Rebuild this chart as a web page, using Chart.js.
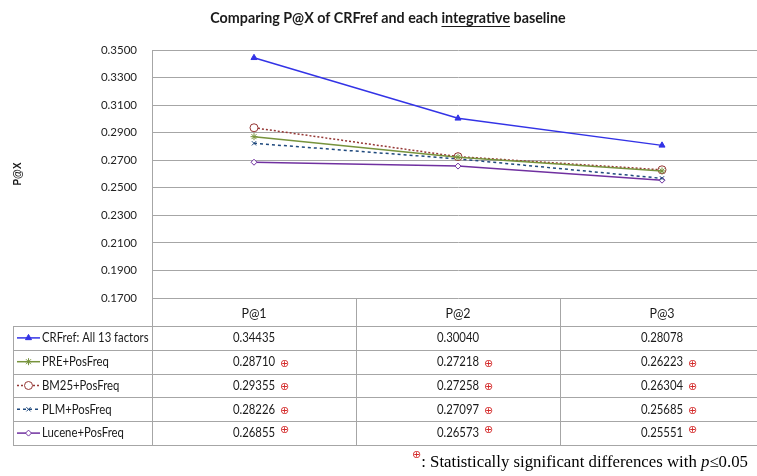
<!DOCTYPE html>
<html>
<head>
<meta charset="utf-8">
<script src="https://cdn.jsdelivr.net/npm/chart.js@4.4.1/dist/chart.umd.min.js"></script>
<style>
  html, body { margin: 0; padding: 0; background: #fff; overflow: hidden; }
  #wrap { width: 757px; height: 476px; overflow: hidden; }
  canvas { display: block; }
</style>
</head>
<body>
<div id="wrap"><canvas id="grafico" width="769" height="476"></canvas></div>
<script>
// dados
const categorias = ['P@1', 'P@2', 'P@3'];
const nomesSeries = ['CRFref: All 13 factors', 'PRE+PosFreq', 'BM25+PosFreq', 'PLM+PosFreq', 'Lucene+PosFreq'];
const crfRef = [0.34435, 0.30040, 0.28078];
const prePosFreq = [0.28710, 0.27218, 0.26223];
const bm25PosFreq = [0.29355, 0.27258, 0.26304];
const plmPosFreq = [0.28226, 0.27097, 0.25685];
const lucenePosFreq = [0.26855, 0.26573, 0.25551];
const significativo = [
    [false, false, false],
    [true, true, true],
    [true, true, true],
    [true, true, true],
    [true, true, true]
];
const yTicks = [0.17, 0.19, 0.21, 0.23, 0.25, 0.27, 0.29, 0.31, 0.33, 0.35];

const familia = 'Lato, "Liberation Sans", sans-serif';
const fonteTabela = '13.5px ' + familia;
const escalaTabela = 0.84; // texto um pouco condensado, como Calibri
const corGrade = '#a6a6a6';

function textoCondensado(ctx, txt, x, y) {
    ctx.save();
    ctx.translate(x, y);
    ctx.scale(escalaTabela, 1);
    ctx.fillText(txt, 0, 0);
    ctx.restore();
    return ctx.measureText(txt).width * escalaTabela;
}

const tabelaPlugin = {
    id: 'tabela',
    afterDraw(chart) {
        const { ctx, chartArea, scales: { x } } = chart;
        const direita = chart.width;
        const esquerda = 13;
        const topo = chartArea.bottom;
        const fimCabecalho = x.bottom;
        const alturaLinha = 23.8;
        const nLinhas = nomesSeries.length;
        const fundo = fimCabecalho + nLinhas * alturaLinha;

        const centros = categorias.map((c, i) => x.getPixelForValue(i));
        const limites = [];
        for (let i = 1; i < centros.length; i++) limites.push((centros[i - 1] + centros[i]) / 2);

        ctx.save();
        ctx.strokeStyle = corGrade;
        ctx.lineWidth = 1;
        ctx.beginPath();
        for (let i = 0; i <= nLinhas; i++) {
            const y = Math.round(fimCabecalho + i * alturaLinha) + 0.5;
            ctx.moveTo(esquerda, y);
            ctx.lineTo(direita, y);
        }
        ctx.moveTo(esquerda + 0.5, fimCabecalho);
        ctx.lineTo(esquerda + 0.5, fundo + 0.5);
        ctx.moveTo(Math.round(chartArea.left) + 0.5, topo);
        ctx.lineTo(Math.round(chartArea.left) + 0.5, fundo + 0.5);
        limites.forEach(l => {
            ctx.moveTo(Math.round(l) + 0.5, topo);
            ctx.lineTo(Math.round(l) + 0.5, fundo + 0.5);
        });
        ctx.stroke();

        chart.data.datasets.forEach((ds, i) => {
            const yc = fimCabecalho + (i + 0.5) * alturaLinha;
            // amostra da legenda
            ctx.save();
            ctx.strokeStyle = ds.borderColor;
            ctx.lineWidth = ds.borderWidth;
            ctx.setLineDash(ds.borderDash || []);
            ctx.beginPath();
            ctx.moveTo(17, yc);
            ctx.lineTo(40, yc);
            ctx.stroke();
            ctx.setLineDash([]);
            ctx.fillStyle = ds.pointBackgroundColor;
            ctx.strokeStyle = ds.borderColor;
            ctx.lineWidth = 1;
            Chart.helpers.drawPoint(ctx, {
                pointStyle: ds.pointStyle,
                radius: ds.pointRadius,
                rotation: 0,
                borderWidth: 1
            }, 28.5, yc);
            ctx.restore();

            ctx.fillStyle = '#1a1a1a';
            ctx.font = fonteTabela;
            ctx.textBaseline = 'middle';
            ctx.textAlign = 'left';
            textoCondensado(ctx, nomesSeries[i], 42, yc);

            ds.data.forEach((v, j) => {
                const txt = v.toFixed(5);
                ctx.font = fonteTabela;
                ctx.textAlign = 'center';
                ctx.fillStyle = '#1a1a1a';
                const w = textoCondensado(ctx, txt, centros[j], yc);
                if (significativo[i][j]) {
                    ctx.font = '11px "DejaVu Sans", sans-serif';
                    ctx.fillStyle = '#d42a2a';
                    ctx.textAlign = 'left';
                    const dy = i === nLinhas - 1 ? -3 : 2;
                    ctx.fillText('\u2295', centros[j] + w / 2 + 5, yc + dy);
                }
            });
        });

        // titulo
        const tituloA = 'Comparing P@X of CRFref and each ';
        const tituloB = 'integrative';
        const tituloC = ' baseline';
        ctx.font = 'bold 14.3px ' + familia;
        ctx.fillStyle = '#1a1a1a';
        ctx.textAlign = 'left';
        ctx.textBaseline = 'alphabetic';
        const wA = ctx.measureText(tituloA).width;
        const wB = ctx.measureText(tituloB).width;
        const wC = ctx.measureText(tituloC).width;
        let tx = 388 - (wA + wB + wC) / 2;
        const ty = 23;
        ctx.fillText(tituloA, tx, ty);
        ctx.fillText(tituloB, tx + wA, ty);
        ctx.fillText(tituloC, tx + wA + wB, ty);
        ctx.strokeStyle = '#1a1a1a';
        ctx.lineWidth = 1;
        ctx.beginPath();
        ctx.moveTo(tx + wA, ty + 3.5);
        ctx.lineTo(tx + wA + wB, ty + 3.5);
        ctx.stroke();

        // nota de rodape
        let fx = 412;
        const fy = 467;
        ctx.font = '11px "DejaVu Sans", sans-serif';
        ctx.fillStyle = '#d42a2a';
        ctx.fillText('\u2295', fx, fy - 9);
        fx += ctx.measureText('\u2295').width;
        ctx.fillStyle = '#000';
        const partes = [
            [': Statistically significant differences with ', '16.8px "Liberation Serif", serif'],
            ['p', 'italic 16.8px "Liberation Serif", serif'],
            ['\u22640.05', '16.8px "Liberation Serif", serif']
        ];
        partes.forEach(([t, f]) => {
            ctx.font = f;
            ctx.fillText(t, fx, fy);
            fx += ctx.measureText(t).width;
        });
        ctx.restore();
    }
};

function serie(label, data, cor, estilo, raio, fundoPonto, traco) {
    return {
        label: label,
        data: data,
        borderColor: cor,
        backgroundColor: cor,
        borderWidth: 1.5,
        borderDash: traco,
        pointStyle: estilo,
        pointRadius: raio,
        pointBackgroundColor: fundoPonto,
        pointBorderColor: cor,
        pointBorderWidth: 1,
        tension: 0
    };
}

const ctx = document.getElementById('grafico').getContext('2d');
new Chart(ctx, {
    type: 'line',
    data: {
        labels: categorias,
        datasets: [
            serie(nomesSeries[0], crfRef, '#3333e6', 'triangle', 3.5, '#3333e6', []),
            serie(nomesSeries[1], prePosFreq, '#77933c', 'star', 3.5, '#77933c', []),
            serie(nomesSeries[2], bm25PosFreq, '#953735', 'circle', 4, '#ffffff', [2, 2]),
            serie(nomesSeries[3], plmPosFreq, '#1f497d', 'crossRot', 3, '#1f497d', [3, 3]),
            serie(nomesSeries[4], lucenePosFreq, '#7030a0', 'rectRot', 3, '#ffffff', [])
        ]
    },
    options: {
        responsive: false,
        animation: false,
        layout: { padding: { top: 50, bottom: 150, left: 0, right: 0 } },
        plugins: {
            legend: { display: false },
            tooltip: { enabled: false }
        },
        scales: {
            x: {
                type: 'category',
                offset: true,
                grid: { display: false, drawTicks: false },
                border: { display: false },
                ticks: {
                    padding: 8,
                    color: '#1a1a1a',
                    font: { family: familia, size: 12.5 },
                    maxRotation: 0
                },
                afterFit: axis => { axis.height = 28; }
            },
            y: {
                min: 0.17,
                max: 0.35,
                grid: { color: corGrade, drawTicks: false },
                border: { color: corGrade },
                afterBuildTicks: axis => { axis.ticks = yTicks.map(v => ({ value: v })); },
                afterFit: axis => { axis.width = 152; },
                ticks: {
                    padding: 15,
                    color: '#222',
                    font: { family: familia, size: 11.5 },
                    callback: v => Number(v).toFixed(4)
                },
                title: {
                    display: true,
                    text: 'P@X',
                    color: '#1a1a1a',
                    font: { family: '"Liberation Sans", sans-serif', size: 10, weight: 'bold' },
                    padding: { top: 12, bottom: 0 }
                }
            }
        }
    },
    plugins: [tabelaPlugin]
});
</script>
</body>
</html>
